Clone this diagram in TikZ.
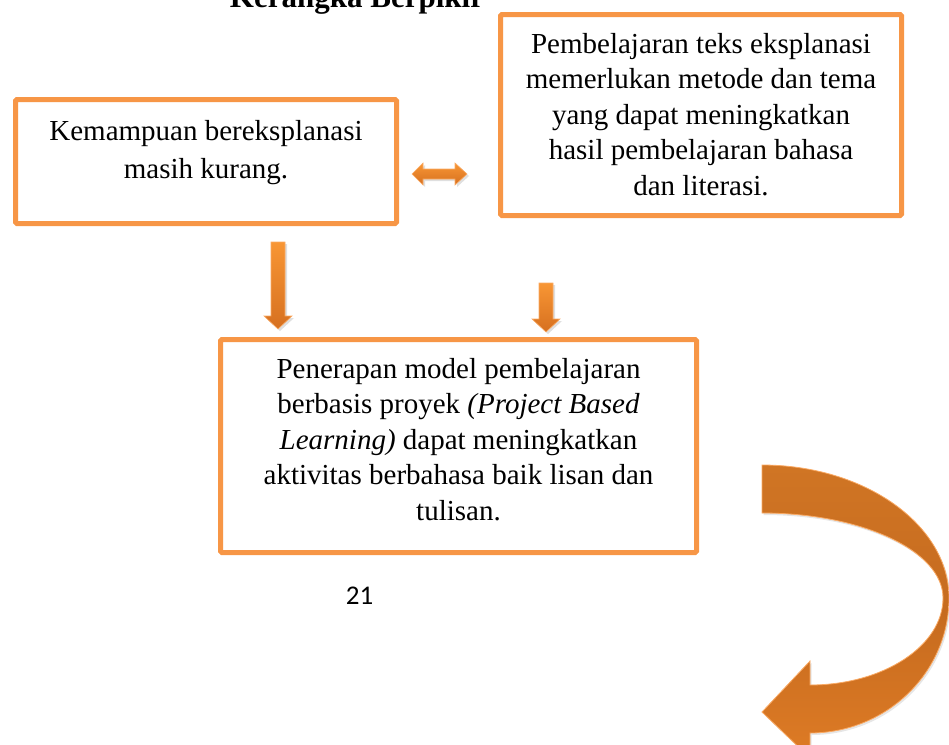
\documentclass[tikz,border=0pt]{standalone}
\usepackage{fontspec}
\setmainfont{Liberation Serif}
\newfontfamily\numfont{Carlito}
\usetikzlibrary{shadows}
\definecolor{boxor}{RGB}{247,150,70}
\definecolor{arrtop}{RGB}{248,150,52}
\definecolor{arrbot}{RGB}{214,112,32}
\definecolor{arredge}{RGB}{250,170,100}
\definecolor{curvtop}{RGB}{208,117,36}
\definecolor{curvmid}{RGB}{198,107,31}
\definecolor{curvbot}{RGB}{222,123,37}
\begin{document}
\begin{tikzpicture}[x=1pt,y=-1pt,
  frame/.style={draw=boxor, line width=5pt, rounded corners=1.5pt, fill=white,
    drop shadow={opacity=0.18, shadow xshift=1.5pt, shadow yshift=-1.5pt}},
  txt/.style={font=\fontsize{29}{35}\selectfont, anchor=base, inner sep=0pt},
  blockarrow/.style={top color=arrtop, bottom color=arrbot, draw=arredge, line width=0.6pt,
    drop shadow={opacity=0.25, shadow xshift=2pt, shadow yshift=-2pt}},
  curvarrow/.style={top color=curvtop, bottom color=curvbot, middle color=curvmid, draw=arredge, line width=0.8pt,
    drop shadow={opacity=0.2, shadow xshift=1.5pt, shadow yshift=-2pt}},
]
\useasboundingbox (0,0) rectangle (949,744);

% title (cut off at the top edge)
\node[font=\bfseries\fontsize{31}{31}\selectfont, anchor=base, inner sep=0pt] (title) at (357,7) {Kerangka Berpikir};

% boxes
\node[frame, minimum width=381pt, minimum height=124pt] (b1) at (206,161.5) {};
\node[frame, minimum width=401pt, minimum height=201pt] (b2) at (701,115) {};
\node[frame, minimum width=476pt, minimum height=213pt] (b3) at (458.5,446) {};

% box 1 text
\node[txt] (b1a) at (206,140) {Kemampuan bereksplanasi};
\node[txt] (b1b) at (206,178) {masih kurang.};

% box 2 text
\node[txt] (b2a) at (701,53) {Pembelajaran teks eksplanasi};
\node[txt] (b2b) at (701,88.5) {memerlukan metode dan tema};
\node[txt] (b2c) at (701,124) {yang dapat meningkatkan};
\node[txt] (b2d) at (701,159.5) {hasil pembelajaran bahasa};
\node[txt] (b2e) at (701,195) {dan literasi.};

% box 3 text
\node[txt] (b3a) at (458.5,378) {Penerapan model pembelajaran};
\node[txt] (b3b) at (458.5,413.5) {berbasis proyek \textit{(Project Based}};
\node[txt] (b3c) at (458.5,449) {\textit{Learning)} dapat meningkatkan};
\node[txt] (b3d) at (458.5,484.5) {aktivitas berbahasa baik lisan dan};
\node[txt] (b3e) at (458.5,520) {tulisan.};

% page number
\node[font=\numfont\fontsize{27}{27}\selectfont, anchor=base, inner sep=0pt] (pg) at (359.5,604) {21};

% double arrow between box 1 and box 2
\draw[blockarrow] (412,174) -- (423,163) -- (423,169) -- (455,169) -- (455,163) -- (467,174)
  -- (455,185) -- (455,179) -- (423,179) -- (423,185) -- cycle;

% down arrow under box 1
\draw[blockarrow] (271,242) -- (285,242) -- (285,316) -- (292,316) -- (278,329) -- (264,316) -- (271,316) -- cycle;

% down arrow under box 2
\draw[blockarrow] (539,283) -- (553,283) -- (553,319) -- (560,319) -- (546,332) -- (532,319) -- (539,319) -- cycle;

% curved arrow at the right
\draw[curvarrow] (762,465) .. controls (865,465) and (949,525) .. (949,598)
  .. controls (949,672) and (887,733) .. (810,733)
  -- (810,758) -- (762,712) -- (810,661) -- (810,685)
  .. controls (883,685) and (943,646) .. (943,598)
  .. controls (943,551) and (862,513) .. (762,513) -- cycle;
\end{tikzpicture}
\end{document}
